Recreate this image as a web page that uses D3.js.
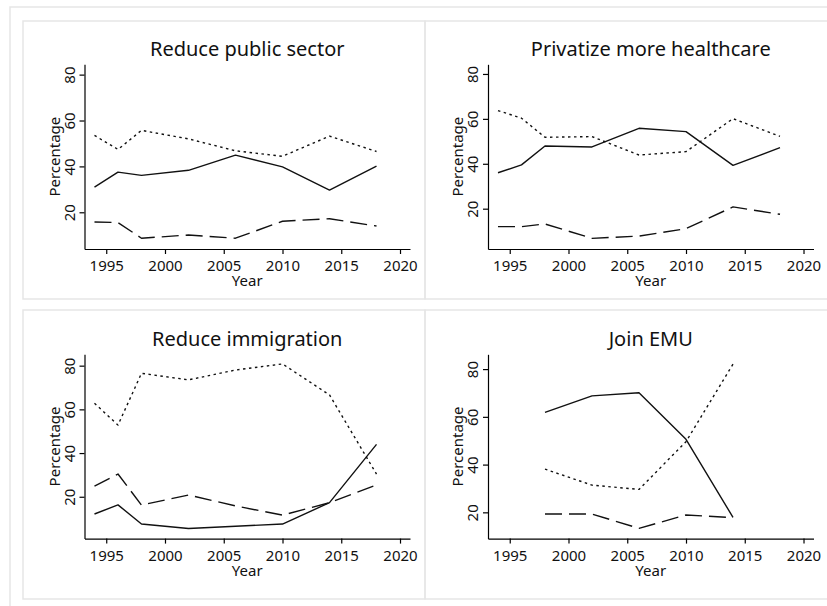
<!DOCTYPE html>
<html>
<head>
  <meta charset="UTF-8">
  <style>
    body { margin: 0; background: #fff; }
    svg { display: block; font-family: "Noto Sans", sans-serif; }
  </style>
</head>
<body>
<svg></svg>
<script src="https://d3js.org/d3.v7.min.js"></script>

<script>

let width = 827, height = 606;

// survey years
let years = [1994, 1996, 1998, 2002, 2006, 2010, 2014, 2018];
let emuYears = [1998, 2002, 2006, 2010, 2014];

let xTicks = [1995, 2000, 2005, 2010, 2015, 2020];
let yTicks = [20, 40, 60, 80];

let titles = ["Reduce public sector", "Privatize more healthcare", "Reduce immigration", "Join EMU"];

// percentages (solid / dashed / dotted lines)
let publicSolid  = [31.0, 37.5, 36.1, 38.3, 44.9, 39.8, 29.7, 40.1];
let publicDashed = [15.8, 15.5, 8.7, 10.1, 8.7, 16.1, 17.2, 14.0];
let publicDotted = [53.5, 47.4, 55.7, 52.0, 46.8, 44.4, 53.2, 46.5];

let healthSolid  = [36.0, 39.5, 47.9, 47.5, 55.8, 54.3, 39.3, 47.2];
let healthDashed = [12.0, 12.0, 13.2, 6.8, 7.8, 11.1, 20.8, 17.5];
let healthDotted = [63.7, 60.3, 51.8, 52.1, 43.9, 45.4, 60.1, 52.2];

let immigSolid  = [12.1, 16.3, 7.5, 5.5, 6.5, 7.5, 17.3, 44.0];
let immigDashed = [24.9, 30.4, 16.2, 20.8, 15.8, 11.6, 17.3, 25.4];
let immigDotted = [62.8, 52.8, 76.5, 73.5, 78.0, 80.8, 66.6, 30.4];

let emuSolid  = [61.9, 68.8, 70.1, 50.6, 17.9];
let emuDashed = [19.3, 19.3, 13.3, 18.9, 17.8];
let emuDotted = [38.1, 31.4, 29.6, 49.6, 82.1];

let svg = d3.select("svg")
    .attr("width", width)
    .attr("height", height)

// panel boxes (grey frames from the combined graph)
svg.append("rect")
    .attr("x", 10).attr("y", 7).attr("width", 840).attr("height", 620)
    .attr("fill", "none").attr("stroke", "#e6e6e6").attr("stroke-width", 1.5)

let frames = [[23, 21, 402, 278], [425, 21, 420, 278], [23, 310, 402, 289], [425, 310, 420, 289]];
frames.forEach(f => {
    svg.append("rect")
        .attr("x", f[0]).attr("y", f[1]).attr("width", f[2]).attr("height", f[3])
        .attr("fill", "none").attr("stroke", "#e6e6e6").attr("stroke-width", 1.5)
})

// plot areas
let panels = [
    { left: 84.5, top: 64.3, bottom: 249, yDomain: [4.0, 84.5], years: years, series: [publicSolid, publicDashed, publicDotted] },
    { left: 488,  top: 64.3, bottom: 249, yDomain: [2.05, 84.3], years: years, series: [healthSolid, healthDashed, healthDotted] },
    { left: 84.5, top: 354.3, bottom: 538.6, yDomain: [0.85, 85.2], years: years, series: [immigSolid, immigDashed, immigDotted] },
    { left: 488,  top: 354.3, bottom: 538.6, yDomain: [9.0, 86.2], years: emuYears, series: [emuSolid, emuDashed, emuDotted] }
];

let plotW = 325.5;
let dashes = [null, "17,7", "2.5,3.5"];

panels.forEach((p, i) => {
    let x = d3.scaleLinear().domain([1993.15, 2020.85]).range([p.left, p.left + plotW]);
    let y = d3.scaleLinear().domain(p.yDomain).range([p.bottom, p.top]);

    let g = svg.append("g");

    // x axis
    let xa = g.append("g")
        .attr("transform", "translate(0," + p.bottom + ")")
        .call(d3.axisBottom(x).tickValues(xTicks).tickFormat(d3.format("d")).tickSize(5).tickSizeOuter(0));
    xa.selectAll("text").attr("y", 22).attr("dy", 0);

    // y axis
    let ya = g.append("g")
        .attr("transform", "translate(" + p.left + ",0)")
        .call(d3.axisLeft(y).tickValues(yTicks).tickSize(5).tickSizeOuter(0));
    ya.selectAll("text")
        .attr("transform", "rotate(-90)")
        .attr("x", 0).attr("y", -10).attr("dy", 0)
        .attr("text-anchor", "middle");

    g.selectAll(".domain, .tick line").attr("stroke", "#000").attr("stroke-width", 1.2);
    g.selectAll(".tick text")
        .attr("fill", "#111")
        .style("font-family", "'Noto Sans', sans-serif")
        .style("font-size", "15px");

    // titles
    g.append("text")
        .attr("x", p.left + plotW / 2).attr("y", p.top - 8)
        .attr("text-anchor", "middle")
        .attr("fill", "#111")
        .style("font-size", "20px")
        .text(titles[i]);

    g.append("text")
        .attr("x", p.left + plotW / 2).attr("y", p.bottom + 37)
        .attr("text-anchor", "middle")
        .attr("fill", "#111")
        .style("font-size", "15px")
        .text("Year");

    g.append("text")
        .attr("transform", "translate(" + (p.left - 25) + "," + ((p.top + p.bottom) / 2) + ") rotate(-90)")
        .attr("text-anchor", "middle")
        .attr("fill", "#111")
        .style("font-size", "15px")
        .text("Percentage");

    // lines
    let line = d3.line()
        .x(d => x(d[0]))
        .y(d => y(d[1]));

    p.series.forEach((vals, k) => {
        g.append("path")
            .datum(p.years.map((yr, j) => [yr, vals[j]]))
            .attr("d", line)
            .attr("fill", "none")
            .attr("stroke", "#111")
            .attr("stroke-width", 1.4)
            .attr("stroke-linejoin", "round")
            .attr("stroke-dasharray", dashes[k]);
    })
})

</script>

</body>
</html>
